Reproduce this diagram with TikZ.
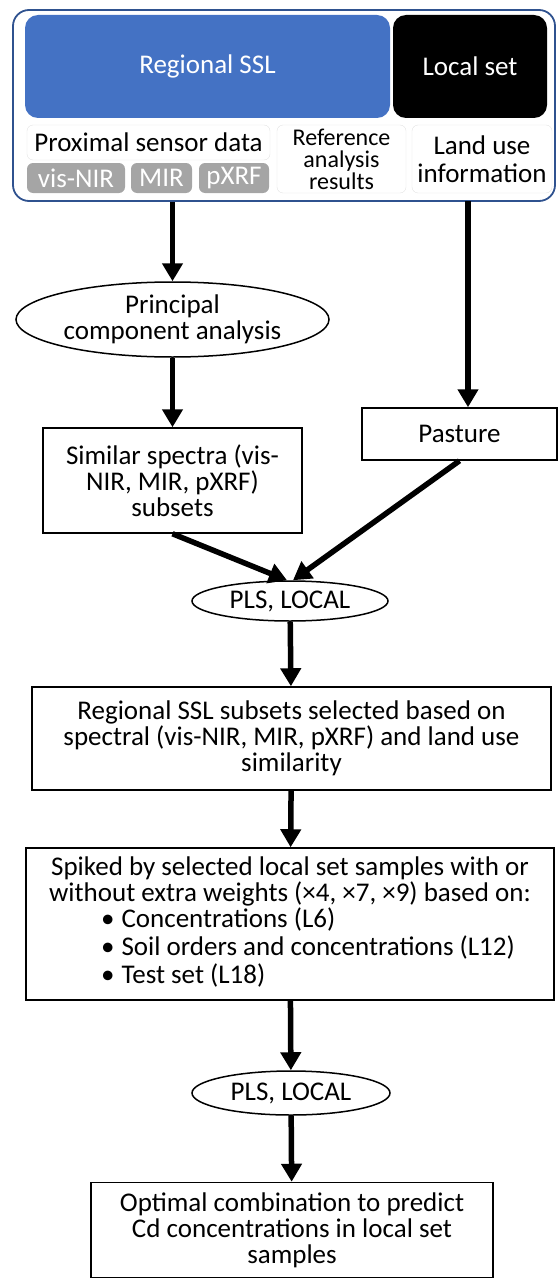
\documentclass[tikz,border=0pt]{standalone}
\usepackage{fontspec}
\setmainfont{Carlito}
\usetikzlibrary{shapes.geometric,arrows.meta}
\definecolor{sslblue}{HTML}{4472C4}
\definecolor{sslline}{HTML}{2F528F}
\definecolor{sensorgray}{HTML}{A5A5A5}
\definecolor{paleline}{HTML}{E2E2E2}
\begin{document}
\begin{tikzpicture}[x=1pt,y=-1pt,
  font=\fontsize{27}{26}\selectfont,
  stepbox/.style={draw,line width=1.5pt,align=center,inner sep=2pt},
  oval/.style={draw,ellipse,line width=1.5pt,align=center,inner sep=0pt},
  tag/.style={rounded corners=6pt,align=center,inner sep=0pt},
  flow/.style={line width=5.5pt,-{Triangle[width=20pt,length=18pt]}}]
\useasboundingbox (0,0) rectangle (558,1279);
\node[draw=sslline,line width=1.8pt,rounded corners=16pt,minimum width=542,minimum height=191] (ssl) at (284,105.5) {};
\path
	(207.5,66.5) node[tag,fill=sslblue,text=white,rounded corners=13pt,minimum width=365,minimum height=103] (regional) {Regional SSL}
	(470,66.5) node[tag,fill=black,text=white,rounded corners=13pt,minimum width=154,minimum height=103] (localset) {Local set}
	(148.5,142.5) node[tag,draw=paleline,minimum width=243,minimum height=35] (proximal) {Proximal sensor data}
	(76,178) node[tag,fill=sensorgray,text=white,minimum width=98,minimum height=30] (visnir) {vis-NIR}
	(161.5,178) node[tag,fill=sensorgray,text=white,minimum width=61,minimum height=30] (mir) {MIR}
	(234,178) node[tag,fill=sensorgray,text=white,minimum width=70,minimum height=30] (pxrf) {pXRF}
	(341.5,159) node[tag,draw=paleline,minimum width=129,minimum height=68,font=\fontsize{24}{22}\selectfont] (reference) {Reference\\analysis\\results}
	(482,159) node[tag,draw=paleline,minimum width=140,minimum height=68,font=\fontsize{27}{28}\selectfont] (landuse) {Land use\\information};
\path
	(172.5,319.5) node[oval,minimum width=313,minimum height=75] (pca) {Principal\\component analysis}
	(172.5,480.5) node[stepbox,minimum width=259,minimum height=105] (simspec) {Similar spectra (vis-\\NIR, MIR, pXRF)\\subsets}
	(459.5,434) node[stepbox,minimum width=195,minimum height=52] (pasture) {Pasture}
	(290,601) node[oval,minimum width=196,minimum height=40] (plsa) {PLS, LOCAL}
	(291.5,738.5) node[stepbox,minimum width=519,minimum height=103] (regsub) {Regional SSL subsets selected based on\\spectral (vis-NIR, MIR, pXRF) and land use\\similarity}
	(290,924) node[stepbox,minimum width=528,minimum height=152] (spiked) {Spiked by selected local set samples with or\\without extra weights (×4, ×7, ×9) based on:\\\hspace*{36pt}\begin{tabular}[t]{@{}l@{}}•\hspace{7pt}Concentrations (L6)\\•\hspace{7pt}Soil orders and concentrations (L12)\\•\hspace{7pt}Test set (L18)\end{tabular}}
	(291,1093) node[oval,minimum width=198,minimum height=44] (plsb) {PLS, LOCAL}
	(292,1230) node[stepbox,minimum width=402,minimum height=95] (final) {Optimal combination to predict\\Cd concentrations in local set\\samples};
\coordinate (landtap) at (468,201);
\draw[flow] (pca.north |- ssl.south) -- (pca.north);
\draw[flow] (landtap) -- (landtap |- pasture.north);
\draw[flow] (pca) -- (simspec);
\draw[flow] (simspec.south) -- ([xshift=-3pt]plsa.north);
\draw[flow] (pasture.south) -- ([xshift=3pt]plsa.north);
\draw[flow] (plsa) -- (regsub);
\draw[flow] (regsub) -- (spiked);
\draw[flow] (spiked) -- (plsb);
\draw[flow] (plsb) -- (final);
\end{tikzpicture}
\end{document}
